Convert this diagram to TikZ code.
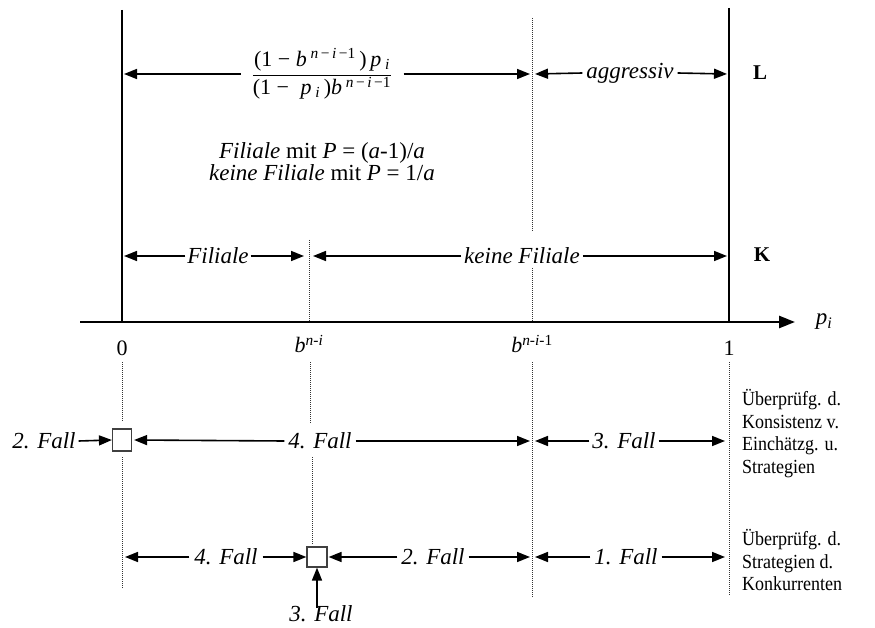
\documentclass[tikz,border=0pt]{standalone}
\usepackage{fontspec}
\setmainfont{Liberation Serif}
\newfontfamily\sidefont[FakeStretch=0.9]{Liberation Serif}
\usetikzlibrary{arrows.meta}
\newcommand{\mysup}[1]{\textsuperscript{#1}}
\newcommand{\mysub}[1]{\textsubscript{#1}}
\begin{document}
\begin{tikzpicture}[x=1pt,y=-1pt,
  arr/.style={line width=1.6pt,-{Triangle[length=13pt,width=10pt]}},
  heavy/.style={line width=2.6pt},
  dotline/.style={line width=0.9pt,dash pattern=on 1pt off 1pt,black!80},
  lab/.style={font=\fontsize{23}{26}\selectfont\itshape,inner sep=0pt,outer sep=0pt},
  side/.style={font=\sidefont\fontsize{20}{22.7}\selectfont,align=left,anchor=north west,inner sep=0pt},
  ax/.style={font=\fontsize{22}{26}\selectfont,inner sep=0pt},
  bold/.style={font=\fontsize{21}{24}\selectfont\bfseries,inner sep=0pt},
  fbox/.style={draw=black!75,line width=1.2pt,fill=white,minimum width=19pt,minimum height=22pt,inner sep=0pt}
]
\useasboundingbox (0,0) rectangle (875,628);

% dotted guide lines
\draw[dotline] (309,240) -- (309,322);
\draw[dotline] (532,18) -- (532,232);
\draw[dotline] (532,268) -- (532,322);
\draw[dotline] (122,362) -- (122,422);
\draw[dotline] (122,457) -- (122,588);
\draw[dotline] (310,362) -- (310,423);
\draw[dotline] (312,457) -- (312,545);
\draw[dotline] (532,362) -- (532,597);
\draw[dotline] (729,362) -- (729,595);

% main verticals and axis
\draw[heavy] (122,10) -- (122,323);
\draw[heavy] (729,8) -- (729,323);
\coordinate (axs) at (80,322);
\coordinate (axe) at (795,322);
\draw[heavy,-{Triangle[length=16pt,width=12pt]}] (axs) -- (axe);
\node[font=\fontsize{23}{26}\selectfont\itshape,inner sep=0pt] (pi) at (824,322) {p\mysub{i}};

% axis labels
\node[ax] (l0) at (122,348) {0};
\node[ax] (l1) at (729,348) {1};
\node[ax] (lb1) at (309,344) {\textit{b}\mysup{\textit{n}-\textit{i}}};
\node[ax] (lb2) at (532,344) {\textit{b}\mysup{\textit{n}-\textit{i}-1}};

% top row
\coordinate (tL) at (124,74);
\coordinate (tM) at (530,74);
\coordinate (tM2) at (535,74);
\coordinate (tR) at (727,74);
\node[font=\fontsize{22}{25}\selectfont,inner xsep=11pt,inner ysep=0pt] (frac) at (322,74)
  {$\displaystyle\frac{\hbox{(1 − \textit{b}\,\mysup{\textit{n}\,−\,\textit{i}\,−1}\,)\,\textit{p}\,\mysub{\textit{i}}}}{\hbox{(1 − \;\textit{p}\,\mysub{\textit{i}}\,)\textit{b}\,\mysup{\textit{n}\,−\,\textit{i}\,−1}}}$};
\draw[arr] (frac.west) -- (tL);
\draw[arr] (frac.east) -- (tM);
\node[lab,inner xsep=4pt] (agg) at (630,73) {aggressiv};
\draw[arr] (agg.west) -- (tM2);
\draw[arr] (agg.east) -- (tR);
\node[bold] (L) at (760,73) {L};

% middle text
\node[font=\fontsize{23}{19.5}\selectfont,align=center,inner sep=0pt] (mid) at (322,162)
  {\textit{Filiale} mit \textit{P} = (\textit{a}-1)/\textit{a}\\ \textit{keine Filiale} mit \textit{P} = 1/\textit{a}};

% Filiale row
\coordinate (kL) at (124,256);
\coordinate (kM) at (304,256);
\coordinate (kM2) at (313,256);
\coordinate (kR) at (727,256);
\node[lab,inner xsep=2pt] (fil) at (218,256) {Filiale};
\draw[arr] (fil.west) -- (kL);
\draw[arr] (fil.east) -- (kM);
\node[lab,fill=white,inner xsep=3pt,inner ysep=2pt] (kfil) at (522,256) {keine Filiale};
\draw[arr] (kfil.west) -- (kM2);
\draw[arr] (kfil.east) -- (kR);
\node[bold] (K) at (762,255) {K};

% row 1 of cases
\node[fbox] (b1) at (122,440) {};
\node[lab,inner xsep=3pt] (r1a) at (44,441) {2. Fall};
\draw[arr] (r1a.east) -- (b1.west);
\coordinate (r1M) at (530,441);
\coordinate (r1M2) at (535,441);
\coordinate (r1R) at (725,441);
\node[lab,fill=white,inner xsep=4pt,inner ysep=3pt] (r1b) at (320,441) {4. Fall};
\draw[arr] (r1b.west) -- ([xshift=2pt]b1.east);
\draw[arr] (r1b.east) -- (r1M);
\node[lab,inner xsep=3pt] (r1c) at (624,441) {3. Fall};
\draw[arr] (r1c.west) -- (r1M2);
\draw[arr] (r1c.east) -- (r1R);
\node[side] (s1) at (742,389) {Überprüfg. d.\\Konsistenz v.\\Einchätzg. u.\\Strategien};

% row 2 of cases
\node[fbox,minimum height=20pt,minimum width=20pt] (b2) at (317,557) {};
\coordinate (r2L) at (125,557);
\coordinate (r2M) at (530,557);
\coordinate (r2M2) at (535,557);
\coordinate (r2R) at (725,557);
\node[lab,inner xsep=5pt] (r2a) at (226,557) {4. Fall};
\draw[arr] (r2a.west) -- (r2L);
\draw[arr] (r2a.east) -- (b2.west);
\node[lab,inner xsep=4pt] (r2b) at (433,557) {2. Fall};
\draw[arr] (r2b.west) -- ([xshift=1pt]b2.east);
\draw[arr] (r2b.east) -- (r2M);
\node[lab,inner xsep=4pt] (r2c) at (626,557) {1. Fall};
\draw[arr] (r2c.west) -- (r2M2);
\draw[arr] (r2c.east) -- (r2R);
\node[lab] (r2d) at (321,614) {3. Fall};
\draw[arr] ([yshift=-2pt]b2.south |- r2d.north) -- (b2.south);
\node[side] (s2) at (742,529) {Überprüfg. d.\\Strategien d.\\Konkurrenten};
\end{tikzpicture}
\end{document}
